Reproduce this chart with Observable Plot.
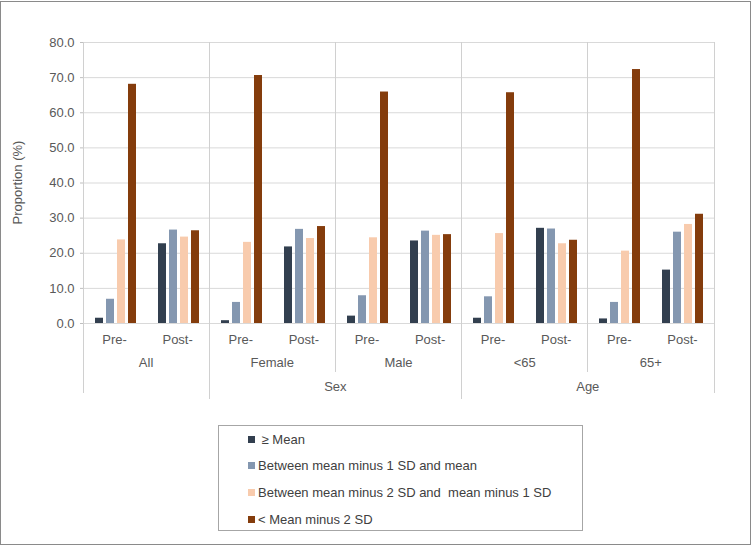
<!DOCTYPE html>
<html>
<head>
<meta charset="utf-8">
<script src="https://cdn.jsdelivr.net/npm/d3@7"></script>
<script src="https://cdn.jsdelivr.net/npm/@observablehq/plot@0.6"></script>
<style>
  body { margin: 0; background: #fff; font-family: "Liberation Sans", Arial, sans-serif; }
  #wrap { position: relative; width: 752px; height: 546px; overflow: hidden; background: #fff; }
  #border { position: absolute; left: 0; top: 1px; width: 751px; height: 544px; border: 1px solid #8a8a8a; box-sizing: border-box; pointer-events: none; }
  #chart { position: absolute; left: 0; top: 0; }
  #legend { position: absolute; left: 218px; top: 425px; width: 365px; height: 106px; border: 1px solid #a6a6a6; box-sizing: border-box; background: #fff; }
  .item { position: absolute; left: 29px; height: 16px; display: flex; align-items: center; font-size: 13px; color: #404040; white-space: pre; }
  .sw { width: 7px; height: 7px; margin-right: 3px; }
  #chart svg [aria-label^="y-axis"] line, #chart svg [aria-label^="y-axis"] path { stroke: #bfbfbf; }
</style>
</head>
<body>
<div id="wrap">
  <div id="chart"></div>
  <div id="legend"></div>
  <div id="border"></div>
</div>
<script>
// ---- data ----
const groups = ["All", "Female", "Male", "<65", "65+"];
const parents = ["", "Sex", "Sex", "Age", "Age"];
const periods = ["Pre-", "Post-"];
const series = ["≥ Mean", "Between mean minus 1 SD and mean", "Between mean minus 2 SD and  mean minus 1 SD", "< Mean minus 2 SD"];
const colors = ["#323f4f", "#8497b0", "#f8cbad", "#843c0c"];
// order: All Pre, All Post, Female Pre, Female Post, Male Pre, Male Post, <65 Pre, <65 Post, 65+ Pre, 65+ Post
const geMean   = [1.5, 22.7, 0.8, 21.8, 2.1, 23.5, 1.5, 27.1, 1.3, 15.2];
const between1 = [6.9, 26.6, 6.0, 26.8, 7.9, 26.3, 7.6, 26.9, 6.0, 26.0];
const between2 = [23.8, 24.6, 23.1, 24.2, 24.4, 25.1, 25.6, 22.7, 20.6, 28.2];
const below2   = [68.1, 26.4, 70.6, 27.6, 65.9, 25.3, 65.7, 23.7, 72.3, 31.1];
const yTicks = [0, 10, 20, 30, 40, 50, 60, 70, 80];
const yLabel = "Proportion (%)";

const seriesValues = [geMean, between1, between2, below2];
const keys = [];
groups.forEach(g => periods.forEach(p => keys.push(g + "|" + p)));
const rows = [];
keys.forEach((k, i) => {
  const [g, p] = k.split("|");
  series.forEach((s, j) => rows.push({key: k, group: g, period: p, series: s, value: seriesValues[j][i]}));
});

const font = "'Liberation Sans', Arial, sans-serif";
const plot = Plot.plot({
  width: 752,
  height: 410,
  marginLeft: 83,
  marginRight: 38,
  marginTop: 42,
  marginBottom: 87,
  style: {fontFamily: font, fontSize: "13px", color: "#595959", background: "transparent", overflow: "visible"},
  facet: {data: rows, x: "key"},
  fx: {domain: keys, padding: 0, axis: null, label: null},
  x: {domain: series, paddingInner: 0.27, paddingOuter: 0.8, axis: null},
  y: {domain: [0, 80], ticks: yTicks, tickFormat: d3.format(".1f"), tickSize: 4, tickPadding: 6, label: null},
  color: {domain: series, range: colors},
  marks: [
    Plot.ruleY(yTicks, {stroke: "#d9d9d9", strokeWidth: 1}),
    Plot.barY(rows, {x: "series", y: "value", fill: "series"})
  ]
});
document.getElementById("chart").appendChild(plot);

// ---- hierarchical category axis and separators, from the Plot scales ----
const fxs = plot.scale("fx");
const band = d3.scaleBand().domain(fxs.domain).range(fxs.range)
  .paddingInner(fxs.paddingInner ?? 0).paddingOuter(fxs.paddingOuter ?? 0).align(fxs.align ?? 0.5);
const ys = plot.scale("y");
const yS = d3.scaleLinear().domain(ys.domain).range(ys.range);
const y0 = yS(0), yTop = yS(80);
const bw = band.bandwidth();
const left = band(keys[0]), right = band(keys[keys.length - 1]) + bw;
const svg = d3.select(plot);
const g = svg.append("g").attr("font-family", font).attr("font-size", 13).attr("fill", "#595959");
const gridColor = "#d0d0d0";

function vline(x, ya, yb) {
  g.append("line").attr("x1", x).attr("x2", x).attr("y1", ya).attr("y2", yb)
    .attr("stroke", gridColor).attr("shape-rendering", "crispEdges");
}
// y label
g.append("text").attr("transform", `translate(17,${(yTop + y0) / 2}) rotate(-90)`)
  .attr("text-anchor", "middle").attr("dy", "0.35em").text(yLabel);
// outer edges
vline(left, yTop, y0 + 70);
vline(right, yTop, y0 + 70);
// group boundaries
for (let i = 1; i < groups.length; i++) {
  const x = band(groups[i] + "|Pre-");
  const sameParent = parents[i] !== "" && parents[i] === parents[i - 1];
  vline(x, yTop, y0 + (sameParent ? 49 : 76));
}
// period labels
keys.forEach(k => {
  g.append("text").attr("x", band(k) + bw / 2).attr("y", y0 + 16)
    .attr("text-anchor", "middle").attr("dy", "0.35em").text(k.split("|")[1]);
});
// group labels
groups.forEach(gr => {
  const x = (band(gr + "|Pre-") + band(gr + "|Post-") + bw) / 2;
  g.append("text").attr("x", x).attr("y", y0 + 39).attr("text-anchor", "middle").attr("dy", "0.35em").text(gr);
});
// parent labels
[...new Set(parents.filter(p => p))].forEach(p => {
  const gs = groups.filter((gr, i) => parents[i] === p);
  const x = (band(gs[0] + "|Pre-") + band(gs[gs.length - 1] + "|Post-") + bw) / 2;
  g.append("text").attr("x", x).attr("y", y0 + 63).attr("text-anchor", "middle").attr("dy", "0.35em").text(p);
});

// ---- legend ----
const legend = document.getElementById("legend");
series.forEach((s, i) => {
  const it = document.createElement("div");
  it.className = "item";
  it.style.top = (5 + i * 26.7) + "px";
  const sw = document.createElement("span");
  sw.className = "sw";
  sw.style.background = colors[i];
  it.appendChild(sw);
  const t = document.createElement("span");
  t.textContent = (i === 0 ? " " : "") + s;
  it.appendChild(t);
  legend.appendChild(it);
});
</script>
</body>
</html>
